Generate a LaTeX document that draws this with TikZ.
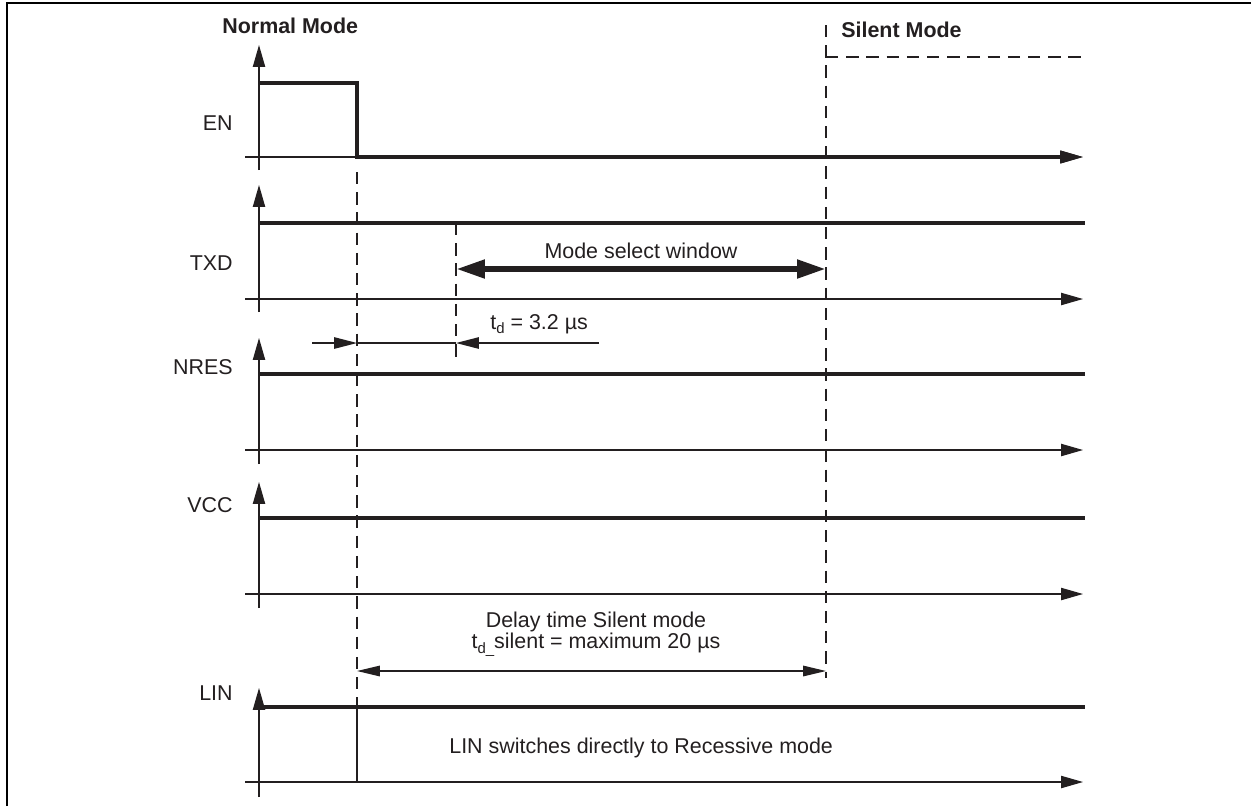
\documentclass[tikz,border=0pt]{standalone}
\usepackage{fontspec}
\setmainfont{Liberation Sans}
\usetikzlibrary{arrows.meta}
\definecolor{ink}{RGB}{35,31,32}
\newcommand\mysub[1]{\raisebox{-0.4ex}{\fontsize{8.5}{8.5}\selectfont #1}}
\begin{document}
\begin{tikzpicture}[x=0.02cm,y=-0.02cm,
  every node/.style={font=\fontsize{12.2}{12.2}\selectfont, inner sep=0pt, text=ink},
  boldlbl/.style={font=\fontsize{12.2}{12.2}\selectfont\bfseries},
  thinln/.style={line width=0.7pt, draw=ink},
  sig/.style={line width=1.75pt, draw=ink, line join=miter},
  dsh/.style={line width=0.7pt, draw=ink, dash pattern=on 7pt off 4.5pt},
  axtip/.style={-{Triangle[length=12.5pt,width=7pt]}},
  sigtip/.style={-{Triangle[length=13pt,width=7pt]}},
  dimtip/.style={-{Triangle[length=13pt,width=6.5pt]}},
  dimboth/.style={{Triangle[length=13pt,width=6pt]}-{Triangle[length=13pt,width=6pt]}},
  bigboth/.style={{Triangle[length=16.5pt,width=10pt]}-{Triangle[length=16.5pt,width=10pt]}}
]
\useasboundingbox (0,0) rectangle (1251,806);
% frame
\draw[line width=1.45pt, black] (7,806) -- (7,3) -- (1251,3);

% axes and labels
\foreach \n/\tip/\ax/\bot/\lab in {EN/45/157/170/123, TXD/185/299/312/263, NRES/338/450/464/367, VCC/482/594/608/505, LIN/688/782/797/693} {
  \draw[thinln, axtip] (259,\bot) -- (259,\tip);
  \draw[thinln, axtip] (245,\ax) -- (1083,\ax);
  \node[anchor=east] (lbl\n) at (233,\lab) {\n};
}

% signals
\draw[sig, sigtip] (259,83) -- (357,83) -- (357,157) -- (1083,157);
\foreach \hi in {223,374,518,707} {
  \draw[sig] (259,\hi) -- (1085,\hi);
}

% mode headings
\node[boldlbl, anchor=west] (normal) at (222,26) {Normal Mode};
\node[boldlbl, anchor=west] (silent) at (841,30) {Silent Mode};

% dashed markers
\coordinate (d1top) at (357,172);
\coordinate (d1lin) at (357,707);
\coordinate (d1bot) at (357,782);
\coordinate (d2top) at (456,223);
\coordinate (d2bot) at (456,363);
\coordinate (d3top) at (826,25);
\coordinate (d3bot) at (826,678);
\coordinate (d3corner) at (826,57);
\coordinate (d3end) at (1083,57);
\draw[dsh] (d1top) -- (d1lin);
\draw[thinln] (d1lin) -- (d1bot);
\draw[dsh] (d2top) -- (d2bot);
\draw[dsh] (d3top) -- (d3bot);
\draw[dsh] (d3corner) -- (d3end);

% mode select window
\coordinate (mwl) at (456,269);
\coordinate (mwr) at (826,269);
\draw[line width=3.5pt, draw=ink, bigboth] (mwl) -- (mwr);
\node (msw) at (641,251) {Mode select window};

% t_d = 3.2 us
\coordinate (tdA) at (312,343);
\coordinate (tdB) at (357,343);
\coordinate (tdC) at (456,343);
\coordinate (tdD) at (599,343);
\draw[thinln] (tdB) -- (tdC);
\draw[thinln, dimtip] (tdA) -- (tdB);
\draw[thinln, dimtip] (tdD) -- (tdC);
\node[anchor=west] (tdlbl) at (490,324) {t\mysub{d} = 3.2 µs};

% delay time silent mode
\coordinate (dlyl) at (357,671);
\coordinate (dlyr) at (826,671);
\draw[thinln, dimboth] (dlyl) -- (dlyr);
\node[align=center] (dly) at (596,634) {Delay time Silent mode\\t\mysub{d\_}silent = maximum 20 µs};

% LIN text
\node[anchor=west] (lintxt) at (449,748) {LIN switches directly to Recessive mode};
\end{tikzpicture}
\end{document}
